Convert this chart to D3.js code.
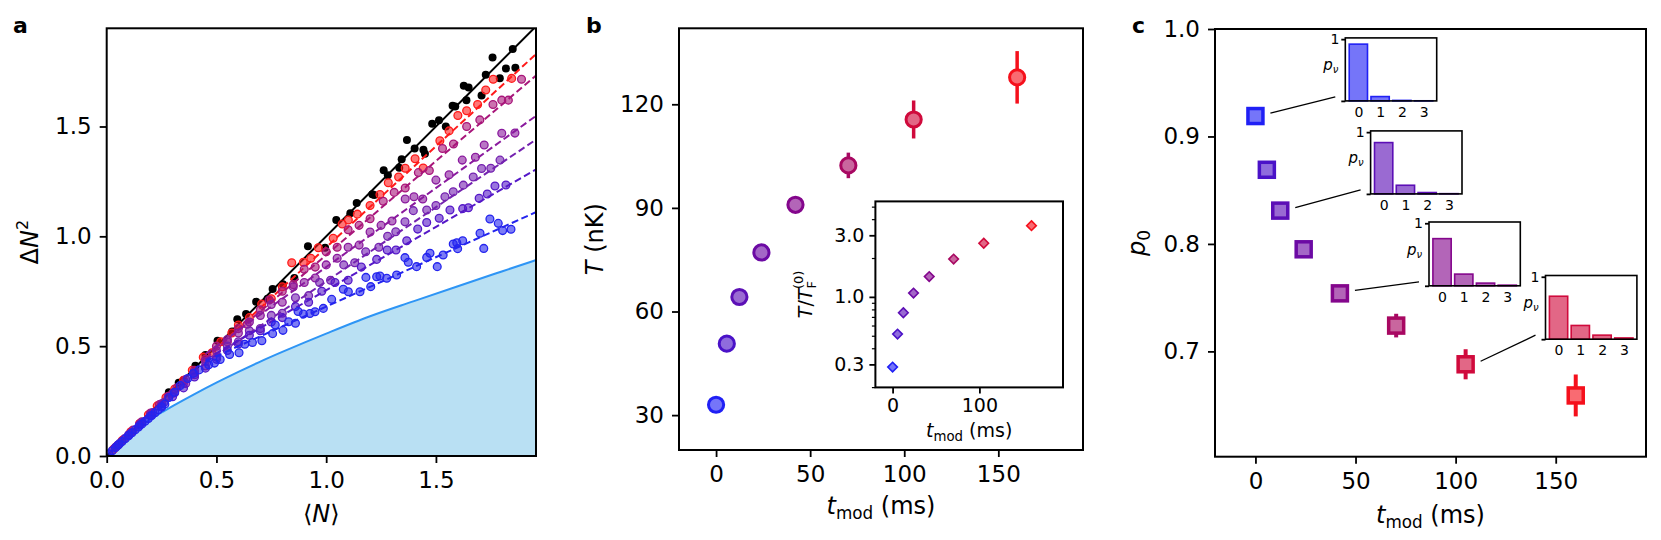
<!DOCTYPE html>
<html><head><meta charset="utf-8">
<script src="https://cdn.jsdelivr.net/npm/d3@7"></script>
<style>
body{margin:0;background:#fff;}
svg{display:block;font-family:"DejaVu Sans",sans-serif;}
</style></head><body>
<svg id="fig" width="1661" height="540"></svg>
<script>
// ---------------- DATA ----------------
// Panel a: variance vs mean atom number
const boundN   = [0,0.05,0.1,0.15,0.2,0.25,0.3,0.4,0.5,0.6,0.7,0.8,0.9,1.0,1.2,1.4,1.6,1.8,1.956];
const boundVar = [0,0.048,0.092,0.132,0.167,0.198,0.227,0.282,0.334,0.383,0.43,0.474,0.516,0.557,0.636,0.705,0.773,0.84,0.892];

const ptsBlack = [[0.283,0.29],[0.328,0.334],[0.35,0.345],[0.404,0.411],[0.45,0.46],[0.505,0.525],[0.572,0.567],[0.595,0.622],[0.635,0.646],[0.681,0.702],[0.733,0.716],[0.756,0.76],[0.803,0.782],[0.855,0.81],[0.917,0.955],[0.995,0.948],[1.046,1.074],[1.11,1.105],[1.139,1.152],[1.21,1.191],[1.219,1.188],[1.262,1.301],[1.281,1.278],[1.333,1.312],[1.344,1.351],[1.368,1.438],[1.403,1.4],[1.443,1.394],[1.45,1.376],[1.483,1.513],[1.514,1.528],[1.545,1.5],[1.576,1.594],[1.588,1.591],[1.627,1.685],[1.649,1.677],[1.639,1.619],[1.708,1.641],[1.727,1.735],[1.758,1.814],[1.791,1.72],[1.819,1.764],[1.85,1.853],[1.862,1.767]];

const ptsRed = [[0.03,0.03],[0.07,0.07],[0.11,0.11],[0.15,0.148],[0.19,0.188],[0.23,0.228],[0.27,0.266],[0.31,0.305],[0.35,0.345],[0.39,0.39],[0.44,0.45],[0.48,0.47],[0.52,0.52],[0.57,0.56],[0.6,0.596],[0.65,0.63],[0.706,0.692],[0.75,0.716],[0.8,0.77],[0.843,0.88],[0.896,0.882],[0.93,0.9],[0.964,0.948],[1.032,0.991],[1.073,1.056],[1.101,1.074],[1.142,1.101],[1.2,1.14],[1.245,1.19],[1.283,1.244],[1.33,1.27],[1.36,1.31],[1.405,1.353],[1.442,1.311],[1.518,1.435],[1.56,1.48],[1.6,1.55],[1.64,1.572],[1.69,1.6],[1.727,1.666],[1.761,1.715],[1.845,1.719]];

const ptsMagenta = [[0.04,0.04],[0.08,0.078],[0.12,0.118],[0.16,0.156],[0.2,0.196],[0.24,0.234],[0.28,0.272],[0.32,0.31],[0.36,0.348],[0.4,0.39],[0.45,0.44],[0.5,0.5],[0.55,0.52],[0.6,0.58],[0.64,0.6],[0.7,0.665],[0.74,0.71],[0.8,0.75],[0.85,0.78],[0.9,0.85],[0.95,0.86],[1.0,0.93],[1.05,0.95],[1.1,1.03],[1.15,1.05],[1.2,1.08],[1.26,1.16],[1.31,1.2],[1.36,1.22],[1.42,1.29],[1.47,1.3],[1.53,1.4],[1.58,1.42],[1.64,1.5],[1.7,1.53],[1.76,1.6],[1.8,1.62],[1.83,1.62],[1.89,1.715]];

const ptsPurple1 = [[0.05,0.049],[0.1,0.097],[0.15,0.145],[0.2,0.19],[0.25,0.238],[0.3,0.285],[0.35,0.33],[0.4,0.38],[0.45,0.43],[0.5,0.48],[0.55,0.53],[0.6,0.56],[0.65,0.61],[0.7,0.64],[0.75,0.69],[0.8,0.7],[0.85,0.77],[0.9,0.79],[0.95,0.81],[1.0,0.87],[1.05,0.9],[1.1,0.95],[1.15,0.96],[1.2,1.02],[1.25,1.05],[1.3,1.07],[1.36,1.17],[1.4,1.18],[1.44,1.17],[1.5,1.256],[1.56,1.28],[1.62,1.347],[1.68,1.36],[1.72,1.416],[1.8,1.469],[1.86,1.47]];

const ptsPurple2 = [[0.06,0.058],[0.11,0.105],[0.16,0.152],[0.21,0.198],[0.26,0.243],[0.31,0.288],[0.36,0.33],[0.4,0.37],[0.45,0.41],[0.5,0.45],[0.55,0.5],[0.6,0.52],[0.65,0.57],[0.7,0.58],[0.75,0.64],[0.8,0.65],[0.86,0.72],[0.92,0.73],[0.97,0.79],[1.02,0.8],[1.08,0.87],[1.13,0.88],[1.18,0.93],[1.24,0.95],[1.28,1.0],[1.317,1.021],[1.359,1.066],[1.397,1.117],[1.458,1.12],[1.5,1.14],[1.541,1.18],[1.579,1.203],[1.625,1.233],[1.67,1.27],[1.708,1.309],[1.75,1.31],[1.792,1.347]];

const ptsViolet = [[0.05,0.048],[0.1,0.095],[0.15,0.14],[0.2,0.183],[0.25,0.228],[0.3,0.27],[0.35,0.31],[0.4,0.36],[0.45,0.4],[0.5,0.44],[0.55,0.48],[0.6,0.51],[0.65,0.55],[0.7,0.57],[0.75,0.61],[0.8,0.63],[0.86,0.68],[0.92,0.7],[0.98,0.75],[1.04,0.79],[1.1,0.8],[1.16,0.86],[1.23,0.895],[1.278,0.938],[1.318,0.938],[1.367,0.98],[1.417,1.033],[1.458,1.063],[1.515,1.082],[1.564,1.12],[1.622,1.126],[1.648,1.13],[1.697,1.173],[1.734,1.193],[1.769,1.229],[1.819,1.234]];

const ptsBlue = [[0.01,0.01],[0.025,0.024],[0.04,0.038],[0.055,0.052],[0.07,0.066],[0.085,0.079],[0.1,0.092],[0.115,0.106],[0.13,0.119],[0.145,0.132],[0.16,0.145],[0.175,0.158],[0.19,0.171],[0.205,0.184],[0.22,0.197],[0.235,0.21],[0.25,0.222],[0.265,0.236],[0.283,0.266],[0.309,0.29],[0.335,0.321],[0.369,0.353],[0.395,0.376],[0.421,0.392],[0.465,0.415],[0.491,0.423],[0.517,0.439],[0.56,0.462],[0.603,0.47],[0.629,0.509],[0.664,0.517],[0.707,0.525],[0.756,0.557],[0.768,0.596],[0.803,0.572],[0.829,0.611],[0.86,0.604],[0.872,0.658],[0.896,0.646],[0.926,0.649],[0.949,0.657],[0.987,0.672],[1.025,0.713],[1.078,0.759],[1.101,0.748],[1.154,0.748],[1.181,0.813],[1.203,0.771],[1.23,0.816],[1.245,0.819],[1.276,0.809],[1.321,0.824],[1.359,0.903],[1.374,0.882],[1.412,0.862],[1.458,0.904],[1.473,0.923],[1.506,0.862],[1.533,0.915],[1.579,0.965],[1.595,0.971],[1.599,0.944],[1.622,0.98],[1.701,1.014],[1.718,0.945],[1.746,1.079],[1.784,1.059],[1.804,1.026],[1.842,1.032]];

const seriesPts    = [ptsRed, ptsMagenta, ptsPurple1, ptsPurple2, ptsViolet, ptsBlue];
const fitIntercept = [0.03, 0.06, 0.14, 0.12, 0.18, 0.23];
const fitSlope     = [0.92, 0.855, 0.72, 0.675, 0.575, 0.45];
const fitRange     = [0.45, 2.0];
const axATicks     = [0, 0.5, 1.0, 1.5];

// Panel b / c
const tMod    = [0, 5.7, 12.4, 24.1, 42.2, 70.3, 105, 160];
const tempNK  = [33.0, 50.7, 64.2, 77.1, 90.9, 102.3, 115.6, 127.8];
const tempErr = [0.6, 0.8, 1.0, 1.2, 1.5, 3.7, 5.5, 7.6];
const tOverTF = [0.286, 0.515, 0.754, 1.07, 1.436, 1.963, 2.605, 3.56];
const p0      = [0.919, 0.869, 0.831, 0.795, 0.754, 0.724, 0.688, 0.659];
const p0Err   = [0.002, 0.003, 0.003, 0.004, 0.005, 0.011, 0.014, 0.0195];
const bTicksX = [0, 50, 100, 150];
const bTicksY = [30, 60, 90, 120];
const insetBTicksX = [0, 100];
const insetBTicksY = [0.3, 1.0, 3.0];
const insetBMinor  = [0.2, 0.4, 0.5, 0.6, 0.7, 0.8, 0.9, 2, 4, 5];
const cTicksY = [0.7, 0.8, 0.9, 1.0];
const histIdx    = [0, 2, 4, 6];
const histLevels = [0, 1, 2, 3];
const histP = [[0.919, 0.07, 0.008, 0.002],
               [0.831, 0.14, 0.022, 0.004],
               [0.754, 0.187, 0.043, 0.01],
               [0.688, 0.22, 0.065, 0.02]];

// ---------------- STYLE ----------------
const seriesColors = ["#ff1a1a", "#a8157a", "#8a1a9e", "#7422b0", "#5518c8", "#2424ee"];
const timeColors = ["#2020f5", "#4a12c8", "#5c0fb6", "#6c0aa4", "#84068c", "#a80862", "#d00a3c", "#f5101c"];
const light = c => d3.interpolateRgb('#ffffff', c)(0.62);
const FONT = "DejaVu Sans, sans-serif";

const svg = d3.select('#fig');
const defs = svg.append('defs');
function clip(id, x, y, w, h) {
  defs.append('clipPath').attr('id', id).append('rect')
    .attr('x', x).attr('y', y).attr('width', w).attr('height', h);
}
function styleAxis(g, fs) {
  g.attr('font-family', FONT).attr('font-size', fs);
  g.select('.domain').remove();
  g.selectAll('.tick line').attr('stroke', '#000').attr('stroke-width', 1.8);
  g.selectAll('.tick text').attr('fill', '#000');
}
function box(x0, y0, x1, y1, w) {
  svg.append('rect').attr('x', x0).attr('y', y0).attr('width', x1 - x0).attr('height', y1 - y0)
    .attr('fill', 'none').attr('stroke', '#000').attr('stroke-width', w || 2);
}
function panelLetter(t, x) {
  svg.append('text').attr('x', x).attr('y', 33).attr('font-family', FONT)
    .attr('font-weight', 'bold').attr('font-size', 22).text(t);
}
function tmodLabel(parent, x, y, fs) {
  const t = parent.append('text').attr('x', x).attr('y', y).attr('text-anchor', 'middle')
    .attr('font-family', FONT).attr('font-size', fs);
  t.append('tspan').attr('font-style', 'italic').text('t');
  t.append('tspan').attr('font-size', fs * 0.7).attr('dy', fs * 0.22).text('mod');
  t.append('tspan').attr('dy', -fs * 0.22).text(' (ms)');
  return t;
}

// ---------------- PANEL A ----------------
const A = {x0: 106.7, x1: 536, y0: 28.3, y1: 456};
const xa = d3.scaleLinear().domain([0, 1.956]).range([A.x0, A.x1]);
const ya = d3.scaleLinear().domain([0, 1.947]).range([A.y1, A.y0]);
clip('clipA', A.x0, A.y0, A.x1 - A.x0, A.y1 - A.y0);
const pa = svg.append('g').attr('clip-path', 'url(#clipA)');
const boundPts = boundN.map((n, i) => [n, boundVar[i]]);
pa.append('path').datum(boundPts)
  .attr('d', d3.area().x(d => xa(d[0])).y0(ya(0)).y1(d => ya(d[1])).curve(d3.curveMonotoneX))
  .attr('fill', '#b9e0f3');
pa.append('path').datum(boundPts)
  .attr('d', d3.line().x(d => xa(d[0])).y(d => ya(d[1])).curve(d3.curveMonotoneX))
  .attr('fill', 'none').attr('stroke', '#2e95f5').attr('stroke-width', 2);

pa.append('g').selectAll('circle').data(ptsBlack).join('circle')
  .attr('cx', d => xa(d[0])).attr('cy', d => ya(d[1])).attr('r', 4).attr('fill', '#000');
pa.append('path').datum([0, 2.1])
  .attr('d', d3.line().x(n => xa(n)).y(n => ya(n)))
  .attr('stroke', '#000').attr('stroke-width', 2).attr('fill', 'none');

seriesPts.forEach((pts, i) => {
  const c = seriesColors[i];
  pa.append('g').selectAll('circle').data(pts).join('circle')
    .attr('cx', d => xa(d[0])).attr('cy', d => ya(d[1])).attr('r', 3.9)
    .attr('fill', c).attr('fill-opacity', 0.6).attr('stroke', c).attr('stroke-width', 1.3);
  pa.append('path').datum(fitRange)
    .attr('d', d3.line().x(n => xa(n)).y(n => ya(fitIntercept[i] + fitSlope[i] * n)))
    .attr('stroke', c).attr('stroke-width', 2).attr('stroke-dasharray', '7,3.5').attr('fill', 'none');
});

svg.append('g').attr('transform', `translate(0,${A.y1})`)
  .call(d3.axisBottom(xa).tickValues(axATicks).tickFormat(d3.format('.1f')).tickSize(7).tickPadding(9))
  .call(g => styleAxis(g, 23));
svg.append('g').attr('transform', `translate(${A.x0},0)`)
  .call(d3.axisLeft(ya).tickValues(axATicks).tickFormat(d3.format('.1f')).tickSize(7).tickPadding(8))
  .call(g => styleAxis(g, 23));
box(A.x0, A.y0, A.x1, A.y1);
panelLetter('a', 13);
{
  const t = svg.append('text').attr('transform', `translate(38,${(A.y0 + A.y1) / 2}) rotate(-90)`)
    .attr('text-anchor', 'middle').attr('font-family', FONT).attr('font-size', 24);
  t.append('tspan').text('Δ');
  t.append('tspan').attr('font-style', 'italic').text('N');
  t.append('tspan').attr('font-size', 16).attr('dy', -10).text('2');
  const x = svg.append('text').attr('x', (A.x0 + A.x1) / 2).attr('y', 522).attr('text-anchor', 'middle')
    .attr('font-family', FONT).attr('font-size', 24);
  x.append('tspan').text('⟨');
  x.append('tspan').attr('font-style', 'italic').text('N');
  x.append('tspan').text('⟩');
}

// ---------------- PANEL B ----------------
const B = {x0: 679, x1: 1083, y0: 28.3, y1: 450};
const xb = d3.scaleLinear().domain([-19.7, 195]).range([B.x0, B.x1]);
const yb = d3.scaleLinear().domain([19.9, 142]).range([B.y1, B.y0]);
const pb = svg.append('g');
tMod.forEach((t, i) => {
  const c = timeColors[i];
  pb.append('line').attr('x1', xb(t)).attr('x2', xb(t))
    .attr('y1', yb(tempNK[i] - tempErr[i])).attr('y2', yb(tempNK[i] + tempErr[i]))
    .attr('stroke', c).attr('stroke-width', 3.5);
});
pb.selectAll('circle.pt').data(tMod).join('circle').attr('class', 'pt')
  .attr('cx', d => xb(d)).attr('cy', (d, i) => yb(tempNK[i])).attr('r', 7.6)
  .attr('fill', (d, i) => light(timeColors[i]))
  .attr('stroke', (d, i) => timeColors[i]).attr('stroke-width', 3);

svg.append('g').attr('transform', `translate(0,${B.y1})`)
  .call(d3.axisBottom(xb).tickValues(bTicksX).tickSize(7).tickPadding(9))
  .call(g => styleAxis(g, 23));
svg.append('g').attr('transform', `translate(${B.x0},0)`)
  .call(d3.axisLeft(yb).tickValues(bTicksY).tickSize(7).tickPadding(8))
  .call(g => styleAxis(g, 23));
box(B.x0, B.y0, B.x1, B.y1);
panelLetter('b', 586);
{
  const t = svg.append('text').attr('transform', `translate(603,${(B.y0 + B.y1) / 2}) rotate(-90)`)
    .attr('text-anchor', 'middle').attr('font-family', FONT).attr('font-size', 24);
  t.append('tspan').attr('font-style', 'italic').text('T');
  t.append('tspan').text(' (nK)');
  tmodLabel(svg, (B.x0 + B.x1) / 2, 514, 24);
}

// inset b
const BI = {x0: 875.4, x1: 1063, y0: 201.4, y1: 387.4};
const xbi = d3.scaleLinear().domain([-19.8, 196.3]).range([BI.x0, BI.x1]);
const ybi = d3.scaleLog().domain([0.199, 5.49]).range([BI.y1, BI.y0]);
svg.append('rect').attr('x', BI.x0).attr('y', BI.y0).attr('width', BI.x1 - BI.x0).attr('height', BI.y1 - BI.y0).attr('fill', '#fff');
svg.append('g').selectAll('path').data(tMod).join('path')
  .attr('transform', (d, i) => `translate(${xbi(d)},${ybi(tOverTF[i])})`)
  .attr('d', 'M0,-4.8L4.8,0L0,4.8L-4.8,0Z')
  .attr('fill', (d, i) => light(timeColors[i]))
  .attr('stroke', (d, i) => timeColors[i]).attr('stroke-width', 1.6);
svg.append('g').attr('transform', `translate(0,${BI.y1})`)
  .call(d3.axisBottom(xbi).tickValues(insetBTicksX).tickSize(6).tickPadding(5))
  .call(g => styleAxis(g, 19));
svg.append('g').attr('transform', `translate(${BI.x0},0)`)
  .call(d3.axisLeft(ybi).tickValues(insetBTicksY).tickFormat(d3.format('.1f')).tickSize(6).tickPadding(5))
  .call(g => styleAxis(g, 19));
svg.append('g').attr('transform', `translate(${BI.x0},0)`)
  .call(d3.axisLeft(ybi).tickValues(insetBMinor).tickFormat('').tickSize(3.5))
  .call(g => { styleAxis(g, 10); g.selectAll('.tick line').attr('stroke-width', 1.2); });
box(BI.x0, BI.y0, BI.x1, BI.y1);
tmodLabel(svg, (BI.x0 + BI.x1) / 2, 437, 19);
{
  const t = svg.append('text').attr('transform', `translate(812,${(BI.y0 + BI.y1) / 2}) rotate(-90)`)
    .attr('text-anchor', 'middle').attr('font-family', FONT).attr('font-size', 19);
  t.append('tspan').attr('font-style', 'italic').text('T');
  t.append('tspan').text('/');
  t.append('tspan').attr('font-style', 'italic').text('T');
  t.append('tspan').attr('font-size', 13).attr('dy', 4).text('F');
  t.append('tspan').attr('font-size', 13).attr('dx', -8).attr('dy', -13).text('(0)');
}

// ---------------- PANEL C ----------------
const C = {x0: 1215, x1: 1646, y0: 29, y1: 456.7};
const xc = d3.scaleLinear().domain([-20.2, 195.1]).range([C.x0, C.x1]);
const yc = d3.scaleLinear().domain([0.602, 1.0]).range([C.y1, C.y0]);
const pc = svg.append('g');
tMod.forEach((t, i) => {
  const c = timeColors[i];
  pc.append('line').attr('x1', xc(t)).attr('x2', xc(t))
    .attr('y1', yc(p0[i] - p0Err[i])).attr('y2', yc(p0[i] + p0Err[i]))
    .attr('stroke', c).attr('stroke-width', 4);
});
const SQ = 15;
pc.selectAll('rect.pt').data(tMod).join('rect').attr('class', 'pt')
  .attr('x', d => xc(d) - SQ / 2).attr('y', (d, i) => yc(p0[i]) - SQ / 2)
  .attr('width', SQ).attr('height', SQ)
  .attr('fill', (d, i) => light(timeColors[i]))
  .attr('stroke', (d, i) => timeColors[i]).attr('stroke-width', 3.5);

svg.append('g').attr('transform', `translate(0,${C.y1})`)
  .call(d3.axisBottom(xc).tickValues(bTicksX).tickSize(7).tickPadding(9))
  .call(g => styleAxis(g, 23));
svg.append('g').attr('transform', `translate(${C.x0},0)`)
  .call(d3.axisLeft(yc).tickValues(cTicksY).tickFormat(d3.format('.1f')).tickSize(7).tickPadding(8))
  .call(g => styleAxis(g, 23));
box(C.x0, C.y0, C.x1, C.y1);
panelLetter('c', 1132);
{
  const t = svg.append('text').attr('transform', `translate(1145,${(C.y0 + C.y1) / 2}) rotate(-90)`)
    .attr('text-anchor', 'middle').attr('font-family', FONT).attr('font-size', 24);
  t.append('tspan').attr('font-style', 'italic').text('p');
  t.append('tspan').attr('font-size', 17).attr('dy', 5).text('0');
  tmodLabel(svg, (C.x0 + C.x1) / 2, 523, 24);
}

// histogram insets
const insetBoxes = [
  {x0: 1345.3, x1: 1436.7, y0: 37.9, y1: 100.9},
  {x0: 1370.6, x1: 1462.0, y0: 130.9, y1: 193.9},
  {x0: 1429.0, x1: 1520.3, y0: 222.0, y1: 285.8},
  {x0: 1545.5, x1: 1636.9, y0: 275.5, y1: 339.2}
];
insetBoxes.forEach((bx, k) => {
  const idx = histIdx[k];
  const c = timeColors[idx];
  svg.append('line')
    .attr('x1', xc(tMod[idx]) + 15).attr('y1', yc(p0[idx]) - 3)
    .attr('x2', bx.x0 - 10).attr('y2', bx.y1 - 4)
    .attr('stroke', '#000').attr('stroke-width', 1.3);
  const xh = d3.scaleLinear().domain([-0.6, 3.6]).range([bx.x0, bx.x1]);
  const yh = d3.scaleLinear().domain([0, 1.02]).range([bx.y1, bx.y0]);
  const g = svg.append('g');
  g.append('rect').attr('x', bx.x0).attr('y', bx.y0).attr('width', bx.x1 - bx.x0).attr('height', bx.y1 - bx.y0).attr('fill', '#fff');
  g.selectAll('rect.bar').data(histLevels).join('rect').attr('class', 'bar')
    .attr('x', d => xh(d - 0.42)).attr('width', xh(0.42) - xh(-0.42))
    .attr('y', (d, j) => yh(histP[k][j])).attr('height', (d, j) => yh(0) - yh(histP[k][j]))
    .attr('fill', light(c)).attr('stroke', c).attr('stroke-width', 1.6);
  svg.append('g').attr('transform', `translate(0,${bx.y1})`)
    .call(d3.axisBottom(xh).tickValues(histLevels).tickFormat(d3.format('d')).tickSize(0).tickPadding(6))
    .call(gg => styleAxis(gg, 14));
  svg.append('g').attr('transform', `translate(${bx.x0},0)`)
    .call(d3.axisLeft(yh).tickValues([0, 1]).tickFormat(d => d === 1 ? '1' : '').tickSize(4).tickPadding(2))
    .call(gg => styleAxis(gg, 14));
  svg.append('rect').attr('x', bx.x0).attr('y', bx.y0).attr('width', bx.x1 - bx.x0).attr('height', bx.y1 - bx.y0)
    .attr('fill', 'none').attr('stroke', '#000').attr('stroke-width', 1.6);
  const pl = svg.append('text').attr('x', bx.x0 - 7).attr('y', (bx.y0 + bx.y1) / 2 + 1)
    .attr('text-anchor', 'end').attr('font-family', FONT).attr('font-size', 15);
  pl.append('tspan').attr('font-style', 'italic').text('p');
  pl.append('tspan').attr('font-style', 'italic').attr('font-size', 10).attr('dy', 3).text('ν');
});
</script>
</body></html>
